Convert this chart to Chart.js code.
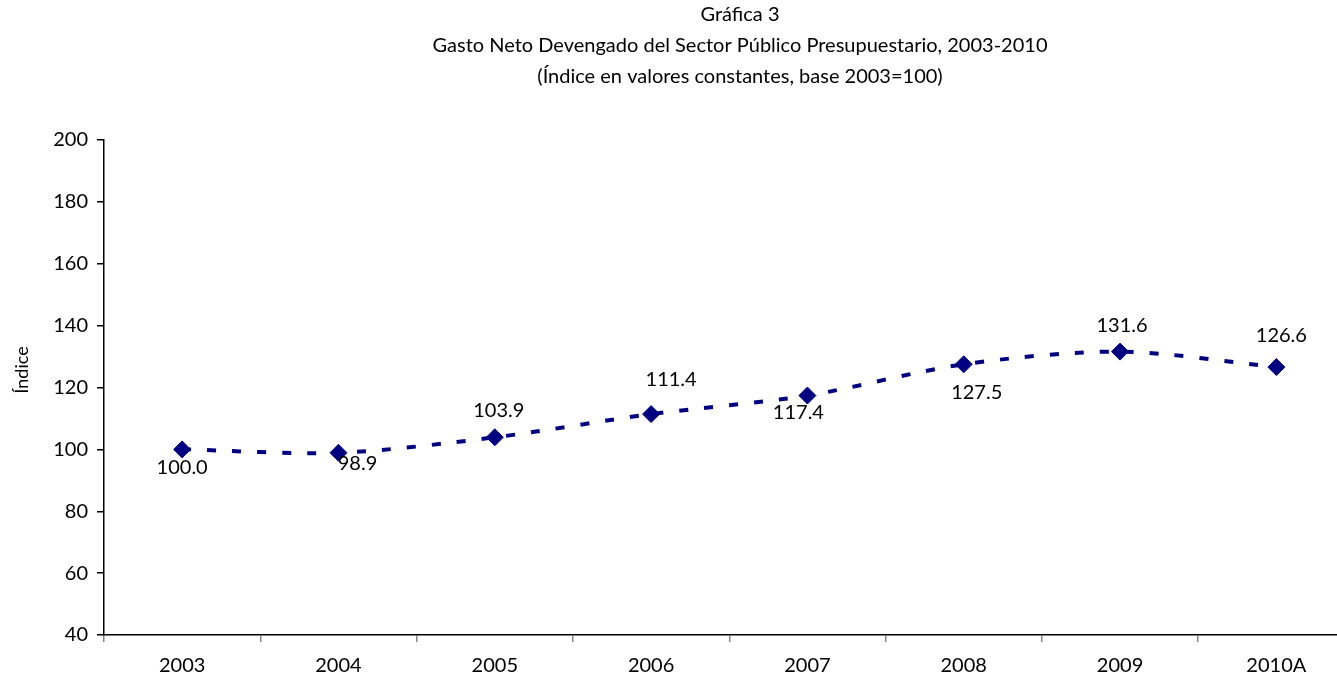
<!DOCTYPE html>
<html><head><meta charset="utf-8">
<script src="https://cdn.jsdelivr.net/npm/chart.js@4"></script>
<style>html,body{margin:0;padding:0;overflow:hidden;background:#fff;width:1337px;height:683px}#wrap{width:1364px;height:683px}canvas{display:block}</style>
</head><body>
<div id="wrap"><canvas id="c" width="1364" height="683"></canvas></div>
<script>
const categories = ['2003','2004','2005','2006','2007','2008','2009','2010A'];
const values = [100.0, 98.9, 103.9, 111.4, 117.4, 127.5, 131.6, 126.6];
const yTicks = [40, 60, 80, 100, 120, 140, 160, 180, 200];
const titleLines = ['Gráfica 3', 'Gasto Neto Devengado del Sector Público Presupuestario, 2003-2010', '(Índice en valores constantes, base 2003=100)'];
const yTitle = 'Índice';

const FONT = 'Lato, "Open Sans", sans-serif';
const labelOffsets = [[0,18],[19,11],[4,-27],[20,-35],[-9,17],[13,28],[2,-26],[5,-32]];

const deco = {
  id: 'deco',
  afterDraw(chart) {
    const ctx = chart.ctx;
    ctx.save();
    ctx.fillStyle = '#000';
    ctx.font = '20px ' + FONT;
    ctx.textAlign = 'center';
    ctx.textBaseline = 'middle';
    const ty = [15, 46, 77];
    titleLines.forEach((t, i) => ctx.fillText(t, 740, ty[i]));
    ctx.save();
    ctx.translate(22, 370);
    ctx.rotate(-Math.PI / 2);
    ctx.font = '18px ' + FONT;
    ctx.fillText(yTitle, 0, 0);
    ctx.restore();
    ctx.font = '20px ' + FONT;
    const meta = chart.getDatasetMeta(0);
    meta.data.forEach((pt, i) => {
      const o = labelOffsets[i];
      ctx.fillText(values[i].toFixed(1), pt.x + o[0], pt.y + o[1]);
    });
    ctx.restore();
  }
};

new Chart(document.getElementById('c'), {
  type: 'line',
  data: {
    labels: categories,
    datasets: [{
      data: values,
      borderColor: '#000080',
      backgroundColor: '#000080',
      borderWidth: 4,
      borderDash: [9, 16],
      fill: false,
      tension: 0.3,
      pointStyle: 'rectRot',
      pointRadius: 8.5,
      pointHoverRadius: 8.5,
      pointBorderWidth: 1,
      pointBorderColor: '#000080',
      pointBackgroundColor: '#000080'
    }]
  },
  options: {
    responsive: false,
    animation: false,
    events: [],
    layout: { padding: { top: 140, left: 0, right: 0, bottom: 0 } },
    plugins: { legend: { display: false }, title: { display: false }, tooltip: { enabled: false } },
    scales: {
      x: {
        type: 'category',
        offset: true,
        border: { display: true, color: '#000', width: 1.5 },
        grid: { display: true, offset: true, drawOnChartArea: false, drawTicks: true, tickLength: 7, color: '#888', lineWidth: 1.5 },
        ticks: { color: '#000', font: { family: FONT, size: 20 }, padding: 12, maxRotation: 0, autoSkip: false },
        afterFit(s) { s.height = 48; }
      },
      y: {
        min: 40, max: 200,
        border: { display: true, color: '#000', width: 1.5 },
        grid: { display: true, drawOnChartArea: false, drawTicks: true, tickLength: 7, color: '#000', lineWidth: 1.5 },
        afterBuildTicks(s) { s.ticks = yTicks.map(v => ({ value: v })); },
        ticks: { color: '#000', font: { family: FONT, size: 20 }, padding: 9 },
        afterFit(s) { s.width = 104; }
      }
    }
  },
  plugins: [deco]
});
</script>
</body></html>
